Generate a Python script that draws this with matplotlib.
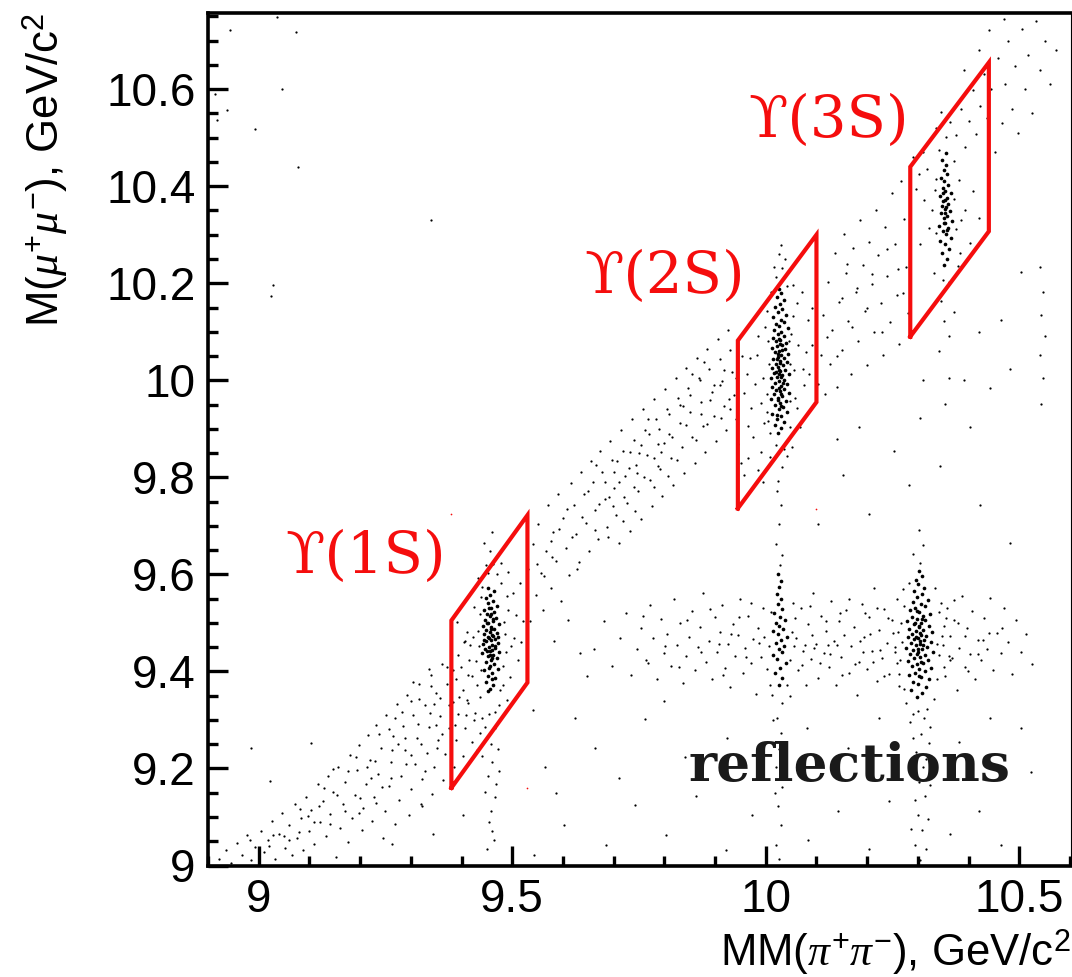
"""Dalitz-like scatter of M(mu mu) against MM(pi pi) with the Upsilon signal boxes.

The dots are a thinned, hand-read sample of the picture: the original has many
thousands of them, only the shape of each cluster is followed here.
"""
import numpy as np
import matplotlib
matplotlib.use("Agg")
import matplotlib.pyplot as plt
from matplotlib.ticker import MultipleLocator

plt.rcParams["font.family"] = ["Liberation Sans", "DejaVu Sans"]
plt.rcParams["mathtext.fontset"] = "custom"
plt.rcParams["mathtext.rm"] = "Liberation Sans"
plt.rcParams["mathtext.it"] = "Liberation Serif:italic"

x_ticks = [9, 9.5, 10, 10.5]
x_tick_labels = ["9", "9.5", "10", "10.5"]
y_ticks = [9, 9.2, 9.4, 9.6, 9.8, 10, 10.2, 10.4, 10.6]
y_tick_labels = ["9", "9.2", "9.4", "9.6", "9.8", "10", "10.2", "10.4", "10.6"]

box_1s_x = [9.38, 9.38, 9.53, 9.53, 9.38]
box_1s_y = [9.16, 9.505, 9.722, 9.377, 9.16]
box_2s_x = [9.945, 9.945, 10.10, 10.10, 9.945]
box_2s_y = [9.736, 10.082, 10.30, 9.955, 9.736]
box_3s_x = [10.285, 10.285, 10.44, 10.44, 10.285]
box_3s_y = [10.09, 10.44, 10.655, 10.307, 10.09]

core_1s = [
    (9.457,9.363),(9.463,9.371),(9.449,9.378),(9.466,9.386),(9.453,9.391),(9.461,9.397),(9.444,9.402),(9.471,9.406),(9.456,9.411),(9.464,9.416),
    (9.448,9.419),(9.459,9.423),(9.469,9.427),(9.452,9.431),(9.463,9.434),(9.441,9.437),(9.474,9.439),(9.457,9.442),(9.447,9.446),(9.466,9.448),
    (9.454,9.451),(9.461,9.454),(9.443,9.457),(9.472,9.459),(9.449,9.462),(9.458,9.465),(9.467,9.467),(9.452,9.471),(9.463,9.474),(9.445,9.477),
    (9.47,9.479),(9.456,9.482),(9.449,9.485),(9.465,9.488),(9.459,9.491),(9.442,9.494),(9.473,9.497),(9.453,9.5),(9.462,9.503),(9.447,9.507),
    (9.468,9.51),(9.456,9.514),(9.451,9.518),(9.464,9.522),(9.445,9.526),(9.459,9.531),(9.469,9.535),(9.453,9.54),(9.462,9.546),(9.448,9.552),
    (9.457,9.558),(9.465,9.565),(9.452,9.572),(9.46,9.445),(9.455,9.469),(9.46,9.428),(9.451,9.443),(9.458,9.487),(9.463,9.508),(9.45,9.499),
    (9.467,9.453),(9.456,9.433),(9.46,9.476),(9.444,9.465),(9.471,9.471),(9.455,9.407),(9.459,9.519),(9.454,9.53),(9.461,9.384),(9.452,9.36),
]
core_2s = [
    (10.025,9.892),(10.031,9.901),(10.018,9.908),(10.036,9.915),(10.022,9.921),(10.03,9.926),(10.013,9.931),(10.041,9.935),(10.026,9.94),(10.034,9.945),
    (10.019,9.949),(10.029,9.953),(10.039,9.957),(10.011,9.961),(10.024,9.964),(10.033,9.968),(10.016,9.971),(10.045,9.974),(10.028,9.977),(10.021,9.98),
    (10.036,9.983),(10.013,9.986),(10.03,9.989),(10.042,9.992),(10.019,9.995),(10.026,9.998),(10.035,10.001),(10.01,10.004),(10.023,10.007),(10.032,10.01),
    (10.046,10.013),(10.017,10.016),(10.028,10.019),(10.038,10.022),(10.012,10.025),(10.025,10.028),(10.034,10.031),(10.02,10.034),(10.041,10.037),(10.029,10.04),
    (10.015,10.043),(10.036,10.046),(10.024,10.049),(10.031,10.052),(10.044,10.055),(10.018,10.058),(10.027,10.061),(10.037,10.064),(10.012,10.067),(10.022,10.07),
    (10.033,10.073),(10.04,10.077),(10.02,10.08),(10.029,10.084),(10.014,10.088),(10.036,10.091),(10.025,10.095),(10.031,10.099),(10.017,10.103),(10.043,10.107),
    (10.026,10.111),(10.021,10.116),(10.035,10.12),(10.03,10.125),(10.015,10.13),(10.039,10.135),(10.024,10.14),(10.032,10.146),(10.019,10.152),(10.028,10.158),
    (10.036,10.165),(10.023,10.172),(10.03,10.18),(10.026,10.188),(10.027,10.012),(10.028,10.035),(10.026,9.985),(10.03,10.006),(10.025,10.055),(10.029,10.075),
    (10.024,9.96),(10.031,9.972),(10.027,10.022),(10.023,10.044),(10.033,10.063),(10.026,10.085),(10.03,9.947),(10.022,9.928),(10.034,9.995),(10.021,10.018),
]
core_3s = [
    (10.352,10.238),(10.358,10.251),(10.347,10.262),(10.361,10.271),(10.353,10.28),(10.344,10.288),(10.366,10.294),(10.356,10.301),(10.349,10.307),(10.36,10.313),
    (10.342,10.319),(10.354,10.324),(10.368,10.329),(10.351,10.334),(10.358,10.339),(10.345,10.344),(10.363,10.349),(10.353,10.354),(10.347,10.359),(10.36,10.364),
    (10.35,10.369),(10.357,10.375),(10.343,10.38),(10.365,10.386),(10.354,10.391),(10.349,10.397),(10.36,10.403),(10.352,10.41),(10.346,10.417),(10.358,10.425),
    (10.351,10.433),(10.355,10.443),(10.348,10.455),(10.356,10.468),(10.353,10.345),(10.354,10.372),(10.352,10.325),(10.356,10.357),(10.35,10.385),(10.357,10.31),
]
core_refl_a = [
    (10.026,9.372),(10.033,9.386),(10.019,9.397),(10.029,9.408),(10.039,9.418),(10.023,9.426),(10.015,9.433),(10.032,9.44),(10.026,9.447),(10.036,9.453),
    (10.02,9.459),(10.03,9.465),(10.042,9.471),(10.024,9.477),(10.014,9.483),(10.034,9.488),(10.027,9.494),(10.021,9.5),(10.037,9.506),(10.029,9.513),
    (10.017,9.521),(10.032,9.529),(10.025,9.538),(10.03,9.549),(10.022,9.56),(10.027,9.573),(10.031,9.587),(10.025,9.601),
]
core_refl_b = [
    (10.298,9.347),(10.309,9.356),(10.287,9.362),(10.316,9.368),(10.3,9.374),(10.291,9.379),(10.322,9.384),(10.306,9.388),(10.282,9.392),(10.295,9.396),
    (10.314,9.4),(10.303,9.404),(10.326,9.408),(10.288,9.411),(10.298,9.415),(10.31,9.418),(10.28,9.421),(10.32,9.424),(10.293,9.427),(10.305,9.43),
    (10.315,9.433),(10.285,9.436),(10.3,9.439),(10.33,9.441),(10.291,9.444),(10.309,9.446),(10.276,9.449),(10.318,9.451),(10.297,9.454),(10.304,9.456),
    (10.287,9.459),(10.325,9.461),(10.312,9.464),(10.293,9.466),(10.301,9.469),(10.28,9.471),(10.317,9.473),(10.306,9.476),(10.289,9.478),(10.328,9.481),
    (10.296,9.483),(10.311,9.486),(10.283,9.488),(10.303,9.491),(10.321,9.494),(10.292,9.497),(10.307,9.5),(10.278,9.503),(10.315,9.506),(10.298,9.509),
    (10.288,9.512),(10.31,9.515),(10.324,9.518),(10.302,9.522),(10.285,9.526),(10.295,9.53),(10.314,9.534),(10.306,9.538),(10.29,9.543),(10.319,9.548),
    (10.299,9.553),(10.308,9.559),(10.293,9.565),(10.313,9.572),(10.301,9.58),(10.296,9.588),(10.308,9.597),(10.303,9.606),(10.304,9.462),(10.3,9.447),
    (10.305,9.479),(10.298,9.435),(10.31,9.455),(10.297,9.47),(10.302,9.493),(10.307,9.42),(10.295,9.5),(10.309,9.508),(10.303,9.39),(10.299,9.524),
]

halo_1s = [
    (9.421,9.391),(9.434,9.452),(9.411,9.482),(9.436,9.518),(9.424,9.533),(9.441,9.574),(9.452,9.603),(9.463,9.621),(9.456,9.648),(9.492,9.527),
    (9.503,9.468),(9.487,9.441),(9.512,9.423),(9.496,9.389),(9.481,9.372),(9.473,9.331),(9.454,9.312),(9.441,9.304),(9.466,9.283),(9.451,9.262),
    (9.472,9.241),(9.461,9.213),(9.452,9.184),(9.466,9.142),(9.458,9.113),(9.461,9.072),(9.451,9.033),(9.403,9.362),(9.394,9.433),(9.391,9.502),
    (9.412,9.334),(9.426,9.314),(9.502,9.561),(9.521,9.503),(9.516,9.582),(9.491,9.604),(9.477,9.583),(9.483,9.502),(9.437,9.348),(9.476,9.361),
    (9.438,9.402),(9.432,9.483),(9.486,9.478),(9.482,9.412),(9.438,9.554),(9.414,9.424),(9.407,9.462),(9.423,9.47),(9.428,9.421),(9.431,9.372),
    (9.498,9.452),(9.507,9.517),(9.489,9.556),(9.478,9.623),(9.469,9.601),(9.449,9.62),(9.445,9.664),(9.461,9.688),(9.433,9.592),(9.517,9.46),
    (9.489,9.342),(9.466,9.316),(9.447,9.285),(9.459,9.25),(9.441,9.226),(9.473,9.195),(9.468,9.167),(9.447,9.151),(9.455,9.09),(9.465,9.052),
]
halo_2s = [
    (9.971,9.942),(9.963,10.013),(9.982,10.052),(9.974,9.883),(9.991,9.852),(10.002,9.934),(9.995,10.004),(9.985,10.091),(10.003,10.143),(10.011,10.182),
    (10.021,10.213),(10.032,10.232),(10.026,10.261),(10.042,10.194),(10.053,10.133),(10.064,10.072),(10.073,10.024),(10.057,9.963),(10.047,9.904),(10.052,9.862),
    (10.041,9.843),(10.032,9.822),(10.021,9.843),(10.025,9.792),(10.083,10.124),(10.072,10.183),(10.091,10.073),(9.957,9.973),(10.008,9.892),(10.006,10.034),
    (10.048,10.033),(10.046,10.082),(10.004,10.081),(10.076,9.99),(10.086,10.012),(10.062,9.942),(10.068,9.903),(9.99,9.953),(9.978,9.992),(9.968,10.046),
    (10.003,9.972),(9.996,9.912),(10.055,10.021),(10.05,10.095),(10.061,10.16),(10.038,10.25),(10.03,10.279),(10.016,10.234),(9.998,10.11),(10.054,10.196),
    (9.965,9.905),(10.08,10.058),(10.02,9.866),(10.035,9.858),(10.009,9.842),(10.044,9.877),(9.953,10.05),(10.092,10.15),(10.047,9.958),(10.005,9.916),
]
halo_3s = [
    (10.332,10.221),(10.361,10.202),(10.345,10.163),(10.372,10.141),(10.351,10.123),(10.362,10.092),(10.342,10.061),(10.333,10.393),(10.382,10.412),(10.372,10.453),
    (10.341,10.474),(10.356,10.502),(10.363,10.533),(10.346,10.552),(10.393,10.351),(10.322,10.313),(10.312,10.372),(10.402,10.283),(10.384,10.262),(10.421,10.334),
    (10.335,10.304),(10.376,10.312),(10.371,10.374),(10.336,10.414),(10.385,10.33),(10.328,10.35),(10.305,10.28),(10.408,10.39),(10.379,10.236),(10.35,10.206),
]
halo_refl = [
    (10.272,9.363),(10.264,9.424),(10.261,9.482),(10.273,9.534),(10.337,9.384),(10.342,9.433),(10.347,9.472),(10.341,9.522),(10.333,9.571),(10.282,9.583),
    (10.276,9.334),(10.291,9.312),(10.312,9.303),(10.306,9.271),(10.321,9.252),(10.296,9.233),(10.311,9.204),(10.302,9.172),(10.315,9.143),(10.301,9.104),
    (10.309,9.073),(10.295,9.042),(10.305,9.623),(10.291,9.642),(10.311,9.661),(10.303,9.692),(10.352,9.493),(10.331,9.343),(10.363,9.424),(10.255,9.451),
    (10.318,9.323),(10.285,9.295),(10.324,9.285),(10.29,9.262),(10.3,9.318),(10.316,9.22),(10.286,9.19),(10.323,9.165),(10.294,9.135),(10.32,9.095),
    (10.287,9.075),(10.317,9.035),(10.305,9.012),(10.345,9.54),(10.27,9.57),(10.338,9.456),(10.352,9.41),(10.356,9.51),(10.266,9.5),(10.262,9.395),
    (10.012,9.352),(10.041,9.373),(10.032,9.334),(10.022,9.303),(10.031,9.274),(10.026,9.241),(10.021,9.203),(10.032,9.162),(10.025,9.123),(10.03,9.084),
    (10.021,9.042),(10.026,9.014),(10.014,9.3),(10.038,9.232),(10.018,9.15),(10.028,9.62),(10.033,9.64),(10.021,9.662),(10.026,9.703),(10.031,9.744),
    (10.023,9.771),(10.006,9.453),(10.052,9.482),(10.047,9.424),(10.011,9.523),(10.053,9.541),(10.002,9.404),(10.008,9.372),(10.048,9.35),(10.056,9.452),
]

diag_low = [
    (8.921,9.014),(8.935,9.032),(8.946,9.006),(8.958,9.047),(8.967,9.021),(8.976,9.063),(8.984,9.012),(8.993,9.038),(9.004,9.071),(9.011,9.027),
    (9.018,9.052),(9.027,9.092),(9.033,9.014),(9.041,9.065),(9.046,9.109),(9.052,9.037),(9.059,9.083),(9.065,9.021),(9.071,9.126),(9.076,9.056),
    (9.083,9.098),(9.088,9.031),(9.093,9.142),(9.099,9.072),(9.104,9.115),(9.109,9.044),(9.116,9.167),(9.121,9.089),(9.127,9.132),(9.132,9.061),
    (9.137,9.184),(9.141,9.106),(9.147,9.151),(9.152,9.017),(9.156,9.204),(9.161,9.078),(9.166,9.126),(9.171,9.173),(9.176,9.049),(9.181,9.227),
    (9.184,9.098),(9.189,9.146),(9.193,9.196),(9.198,9.249),(9.203,9.073),(9.206,9.119),(9.211,9.168),(9.216,9.268),(9.219,9.217),(9.224,9.092),
    (9.228,9.141),(9.232,9.29),(9.236,9.188),(9.241,9.243),(9.245,9.057),(9.249,9.113),(9.252,9.311),(9.257,9.164),(9.261,9.213),(9.265,9.267),
    (9.269,9.086),(9.273,9.333),(9.276,9.136),(9.281,9.185),(9.285,9.288),(9.289,9.238),(9.292,9.352),(9.296,9.105),(9.301,9.157),(9.304,9.31),
    (9.308,9.209),(9.312,9.262),(9.316,9.374),(9.32,9.127),(9.323,9.178),(9.327,9.331),(9.331,9.232),(9.335,9.285),(9.339,9.392),(9.342,9.148),
    (9.346,9.203),(9.35,9.355),(9.353,9.258),(9.357,9.308),(9.361,9.415),(9.364,9.176),(9.368,9.229),(9.372,9.374),(9.375,9.284),(9.379,9.434),
    (9.383,9.337),(9.386,9.203),(9.39,9.258),(9.394,9.312),(9.398,9.41),(9.402,9.226),(9.406,9.283),(9.41,9.342),(9.416,9.455),(9.42,9.255),
    (9.424,9.3),(9.43,9.238),(9.436,9.274),(9.404,9.46),(9.39,9.385),(9.375,9.33),(9.35,9.29),(9.32,9.25),(9.29,9.21),(9.26,9.18),
    (9.23,9.215),(9.2,9.14),(9.17,9.112),(9.14,9.085),(9.11,9.09),(9.08,9.07),(9.05,9.06),(9.02,9.04),(9.3,9.34),(9.34,9.37),
]
diag_low_fill = [
    (9.317,9.343),(9.268,9.304),(9.358,9.346),(9.214,9.203),(9.129,9.159),(9.288,9.262),(9.383,9.402),(9.177,9.195),(9.243,9.161),(9.336,9.405),
    (9.097,9.103),(9.301,9.227),(9.263,9.239),(9.362,9.271),(9.155,9.145),(9.028,9.063),(9.238,9.27),(9.346,9.333),(9.192,9.224),(9.327,9.195),
    (9.412,9.392),(9.118,9.122),(9.283,9.316),(9.395,9.348),(9.06,9.052),(9.222,9.181),(9.371,9.409),(9.314,9.291),(9.147,9.198),(9.256,9.282),
    (9.305,9.378),(8.982,9.052),(9.198,9.108),(9.351,9.242),(9.275,9.251),(9.387,9.29),(9.232,9.128),(9.338,9.314),(9.082,9.116),(9.408,9.31),
]
diag_mid = [
    (9.531,9.612),(9.535,9.503),(9.541,9.662),(9.546,9.558),(9.551,9.704),(9.556,9.602),(9.561,9.526),(9.566,9.648),(9.571,9.742),(9.576,9.571),
    (9.581,9.688),(9.586,9.628),(9.591,9.766),(9.596,9.545),(9.601,9.717),(9.606,9.655),(9.611,9.598),(9.616,9.789),(9.621,9.742),(9.626,9.683),
    (9.631,9.625),(9.636,9.811),(9.641,9.766),(9.646,9.706),(9.651,9.648),(9.655,9.833),(9.66,9.79),(9.664,9.732),(9.669,9.672),(9.674,9.855),
    (9.678,9.811),(9.683,9.756),(9.687,9.698),(9.692,9.875),(9.696,9.835),(9.701,9.778),(9.705,9.722),(9.71,9.664),(9.714,9.898),(9.718,9.855),
    (9.723,9.802),(9.727,9.748),(9.732,9.69),(9.736,9.92),(9.74,9.877),(9.745,9.825),(9.749,9.772),(9.753,9.715),(9.758,9.941),(9.762,9.898),
    (9.766,9.846),(9.771,9.795),(9.775,9.74),(9.779,9.962),(9.784,9.92),(9.788,9.869),(9.792,9.818),(9.796,9.762),(9.801,9.983),(9.805,9.94),
    (9.809,9.89),(9.813,9.84),(9.818,9.785),(9.822,10.004),(9.826,9.963),(9.83,9.912),(9.834,9.862),(9.839,9.808),(9.843,10.025),(9.847,9.984),
    (9.851,9.934),(9.855,9.884),(9.86,9.83),(9.864,10.045),(9.868,10.005),(9.872,9.955),(9.876,9.905),(9.88,9.853),(9.885,10.064),(9.889,10.024),
    (9.893,9.976),(9.897,9.927),(9.901,9.875),(9.906,10.085),(9.91,10.043),(9.914,9.998),(9.918,9.948),(9.922,9.898),(9.926,10.104),(9.93,10.062),
    (9.934,10.018),(9.938,9.97),(9.942,9.92),(9.946,9.868),(9.951,9.83),(9.958,9.805),(9.965,9.84),(9.974,9.78),(9.984,9.815),(9.995,9.79),
    (9.672,9.745),(9.69,9.76),(9.71,9.79),(9.73,9.82),(9.75,9.85),(9.77,9.89),(9.79,9.9),(9.81,9.93),(9.83,9.95),(9.85,9.97),
    (9.87,10.0),(9.89,9.96),(9.91,9.99),(9.93,9.94),(9.7,9.81),(9.72,9.76),(9.74,9.78),(9.76,9.8),(9.78,9.84),(9.8,9.87),
]
diag_mid_fill = [
    (9.753,9.866),(9.637,9.718),(9.842,9.907),(9.698,9.741),(9.918,10.021),(9.578,9.635),(9.787,9.823),(9.664,9.691),(9.873,9.931),(9.733,9.853),
    (9.562,9.597),(9.816,9.884),(9.897,9.99),(9.617,9.678),(9.707,9.834),(9.836,9.947),(9.779,9.781),(9.649,9.772),(9.928,9.962),(9.742,9.731),
    (9.593,9.693),(9.863,9.876),(9.682,9.79),(9.807,9.802),(9.941,10.005),(9.627,9.612),(9.768,9.921),(9.885,9.91),(9.719,9.709),(9.548,9.621),
    (9.854,10.012),(9.665,9.826),(9.794,9.853),(9.608,9.734),(9.911,9.923),(9.747,9.808),(9.824,9.835),(9.689,9.677),(9.878,10.038),(9.576,9.669),
]
diag_high = [
    (10.104,9.992),(10.108,10.052),(10.113,10.134),(10.117,9.972),(10.122,10.203),(10.126,10.034),(10.131,10.104),(10.136,10.262),(10.14,9.986),(10.145,10.161),
    (10.15,10.062),(10.154,10.302),(10.159,10.222),(10.163,10.122),(10.168,10.012),(10.172,10.272),(10.177,10.181),(10.182,10.082),(10.186,10.33),(10.191,10.238),
    (10.195,10.142),(10.2,10.032),(10.204,10.285),(10.209,10.198),(10.213,10.1),(10.218,10.352),(10.222,10.258),(10.227,10.16),(10.231,10.052),(10.236,10.315),
    (10.24,10.214),(10.245,10.12),(10.249,10.385),(10.254,10.28),(10.258,10.176),(10.263,10.075),(10.267,10.41),(10.272,10.332),(10.276,10.234),(10.281,10.138),
    (10.29,10.46),(10.296,10.395),(10.303,10.425),(10.31,10.47),(10.318,10.436),(10.326,10.5),(10.335,10.52),(10.376,10.505),(10.385,10.56),(10.392,10.48),
    (10.4,10.535),(10.408,10.598),(10.415,10.508),(10.423,10.565),(10.43,10.632),(10.437,10.54),(10.445,10.6),(10.452,10.47),(10.458,10.665),(10.465,10.53),
    (10.472,10.61),(10.478,10.7),(10.485,10.56),(10.492,10.648),(10.498,10.51),(10.505,10.725),(10.512,10.6),(10.518,10.67),(10.526,10.55),(10.533,10.74),
    (10.54,10.64),(10.55,10.7),(10.56,10.61),(10.572,10.68),(10.42,10.68),(10.441,10.722),(10.39,10.64),(10.469,10.745),(10.12,10.09),(10.15,10.17),
    (10.18,10.19),(10.21,10.22),(10.24,10.27),(10.27,10.18),(10.14,10.05),(10.17,10.11),(10.2,10.15),(10.23,10.1),(10.26,10.23),(10.16,10.24),
]
refl_band = [
    (9.662,9.446),(9.681,9.503),(9.697,9.412),(9.712,9.468),(9.724,9.521),(9.735,9.393),(9.746,9.447),(9.754,9.49),(9.763,9.424),(9.772,9.536),
    (9.778,9.468),(9.785,9.384),(9.793,9.509),(9.799,9.437),(9.806,9.478),(9.813,9.412),(9.819,9.55),(9.824,9.454),(9.831,9.5),(9.837,9.376),
    (9.842,9.432),(9.849,9.47),(9.854,9.525),(9.86,9.402),(9.866,9.451),(9.871,9.492),(9.877,9.562),(9.882,9.42),(9.888,9.463),(9.893,9.385),
    (9.899,9.512),(9.904,9.441),(9.909,9.481),(9.914,9.536),(9.92,9.408),(9.925,9.457),(9.93,9.368),(9.935,9.498),(9.94,9.432),(9.945,9.475),
    (9.95,9.55),(9.955,9.396),(9.96,9.448),(9.965,9.515),(9.97,9.418),(9.975,9.467),(9.98,9.354),(9.985,9.49),(9.99,9.43),(9.995,9.53),
    (10.06,9.468),(10.064,9.403),(10.069,9.53),(10.074,9.442),(10.079,9.372),(10.084,9.498),(10.089,9.425),(10.094,9.562),(10.099,9.456),(10.104,9.386),
    (10.109,9.515),(10.114,9.438),(10.119,9.483),(10.124,9.41),(10.129,9.545),(10.134,9.462),(10.139,9.372),(10.144,9.503),(10.149,9.43),(10.154,9.475),
    (10.159,9.526),(10.164,9.396),(10.169,9.452),(10.174,9.492),(10.179,9.352),(10.184,9.42),(10.189,9.538),(10.194,9.47),(10.199,9.404),(10.204,9.512),
    (10.209,9.443),(10.214,9.572),(10.219,9.381),(10.224,9.486),(10.229,9.428),(10.234,9.528),(10.239,9.458),(10.244,9.395),(10.249,9.505),(10.254,9.44),
    (10.258,9.55),(10.262,9.37),(10.268,9.46),(10.35,9.454),(10.354,9.39),(10.358,9.53),(10.363,9.474),(10.368,9.428),(10.372,9.505),(10.377,9.362),
    (10.382,9.448),(10.387,9.556),(10.392,9.41),(10.397,9.49),(10.402,9.436),(10.407,9.525),(10.412,9.385),(10.418,9.465),(10.424,9.424),(10.43,9.51),
    (10.436,9.446),(10.442,9.552),(10.449,9.402),(10.456,9.48),(10.463,9.438),(10.47,9.53),(10.478,9.46),(10.486,9.395),(10.494,9.505),(10.504,9.44),
    (10.514,9.478),(10.526,9.415),(9.582,9.462),(9.61,9.505),(9.634,9.438),(9.648,9.39),
]
refl_band_fill = [
    (10.118,9.503),(9.948,9.512),(10.226,9.445),(10.393,9.472),(9.873,9.44),(10.072,9.413),(10.196,9.521),(9.915,9.392),(10.151,9.392),(10.241,9.51),
    (9.801,9.452),(10.38,9.5),(10.092,9.475),(9.962,9.429),(10.186,9.462),(10.418,9.435),(9.845,9.505),(10.127,9.435),(10.258,9.418),(10.087,9.535),
    (9.932,9.477),(10.205,9.478),(9.768,9.418),(10.361,9.432),(10.146,9.52),(10.219,9.53),(9.987,9.458),(10.106,9.418),(10.44,9.48),(9.89,9.528),
    (10.176,9.415),(10.234,9.39),(9.828,9.41),(10.058,9.51),(10.398,9.4),(10.141,9.455),(9.97,9.54),(10.465,9.49),(10.212,9.42),(10.096,9.448),
    (9.908,9.456),(10.25,9.48),(10.165,9.55),(9.757,9.515),(10.371,9.548),(10.078,9.455),(10.192,9.44),(10.122,9.455),(9.996,9.47),(10.428,9.465),
]
sparse = [
    (9.542,9.021),(9.603,9.083),(9.684,9.042),(9.742,9.124),(9.803,9.062),(9.862,9.143),(9.921,9.032),(9.973,9.104),(10.084,9.052),(10.142,9.113),
    (10.203,9.034),(10.244,9.132),(10.363,9.064),(10.421,9.112),(10.464,9.043),(10.523,9.192),(9.564,9.204),(9.663,9.243),(9.762,9.302),(9.841,9.224),
    (9.923,9.262),(9.984,9.213),(10.082,9.284),(10.163,9.242),(10.224,9.303),(10.382,9.254),(10.443,9.304),(10.504,9.283),(9.624,9.303),(9.344,9.064),
    (9.262,9.044),(9.403,9.105),(9.322,9.123),(9.104,9.253),(8.984,9.242),(9.022,9.174),(9.541,9.32),(9.586,9.15),(9.71,9.18),(9.8,9.34),
    (10.542,9.951),(10.546,10.004),(10.541,10.053),(10.551,10.092),(10.543,10.134),(10.547,10.182),(10.541,10.233),(10.463,10.124),(10.482,10.023),(10.503,10.224),
    (10.442,9.984),(10.403,9.903),(10.353,9.952),(10.362,10.004),(10.304,9.923),(10.252,9.854),(10.183,9.903),(10.152,9.804),(10.204,9.724),(10.283,9.784),
    (10.344,9.823),(10.423,9.742),(10.482,9.664),(10.104,9.703),(8.943,10.722),(9.073,10.718),(9.036,10.748),(8.913,10.59),(9.045,10.6),(8.917,10.536),
    (8.992,10.517),(9.077,10.44),(8.937,10.557),(9.028,10.196),(9.024,10.173),(9.34,10.33),(10.39,10.0),(10.42,10.1),(10.31,10.0),(10.14,9.88),
]

red_specks_x = [9.38, 10.10, 9.53]
red_specks_y = [9.725, 9.735, 9.16]


def draw_points(ax, pts, size):
    xs, ys = np.array(pts).T
    ax.scatter(xs, ys, s=size, c="black", marker="o", linewidths=0, zorder=2, snap=False)


fig = plt.figure(figsize=(10.72, 9.77), dpi=100)
ax = fig.add_axes([208 / 1072, 1 - 865.5 / 977, (1071 - 208) / 1072, (865.5 - 13) / 977])
ax.set_xlim(8.9, 10.602)
ax.set_ylim(9.0, 10.757)

for pts in [sparse, diag_low, diag_low_fill, diag_mid, diag_mid_fill, diag_high, refl_band, refl_band_fill,
            halo_1s, halo_2s, halo_3s, halo_refl]:
    draw_points(ax, pts, 2.6)
for pts in [core_1s, core_2s, core_3s, core_refl_a, core_refl_b]:
    draw_points(ax, pts, 7.0)

for bx, by in [(box_1s_x, box_1s_y), (box_2s_x, box_2s_y), (box_3s_x, box_3s_y)]:
    ax.plot(bx, by, color="#f50d0d", lw=3, solid_joinstyle="miter", zorder=3)
ax.scatter(red_specks_x, red_specks_y, s=1.5, c="#f50d0d", linewidths=0, zorder=3)

ax.text(9.052, 9.635, "\u03d2(1S)", color="#f50d0d", family="DejaVu Serif", fontsize=41.5, ha="left", va="center")
ax.text(9.642, 10.213, "\u03d2(2S)", color="#f50d0d", family="DejaVu Serif", fontsize=41.5, ha="left", va="center")
ax.text(9.966, 10.535, "\u03d2(3S)", color="#f50d0d", family="DejaVu Serif", fontsize=41.5, ha="left", va="center")
ax.text(9.848, 9.204, "reflections", color="#1a1a1a", family="DejaVu Serif", weight="bold",
        fontsize=38.5, ha="left", va="center")

ax.set_xticks(x_ticks)
ax.set_xticklabels(x_tick_labels)
ax.set_yticks(y_ticks)
ax.set_yticklabels(y_tick_labels)
ax.xaxis.set_minor_locator(MultipleLocator(0.1))
ax.yaxis.set_minor_locator(MultipleLocator(0.05))
ax.tick_params(which="major", direction="in", length=14.5, width=2.4, labelsize=33, pad=9)
ax.tick_params(which="minor", direction="in", length=7, width=2.4)
for side in ["left", "bottom", "top"]:
    ax.spines[side].set_linewidth(2.6)
ax.spines["right"].set_linewidth(0.8)

ax.set_xlabel(r"MM($\mathit{\pi}^{+}\mathit{\pi}^{-}$), GeV/c$^{2}$", fontsize=31.5, loc="right", labelpad=4)
ax.set_ylabel(r"M($\mathit{\mu}^{+}\mathit{\mu}^{-}$), GeV/c$^{2}$", fontsize=31.5, loc="top", labelpad=26)

fig.savefig("out.png", dpi=100)
plt.close(fig)
